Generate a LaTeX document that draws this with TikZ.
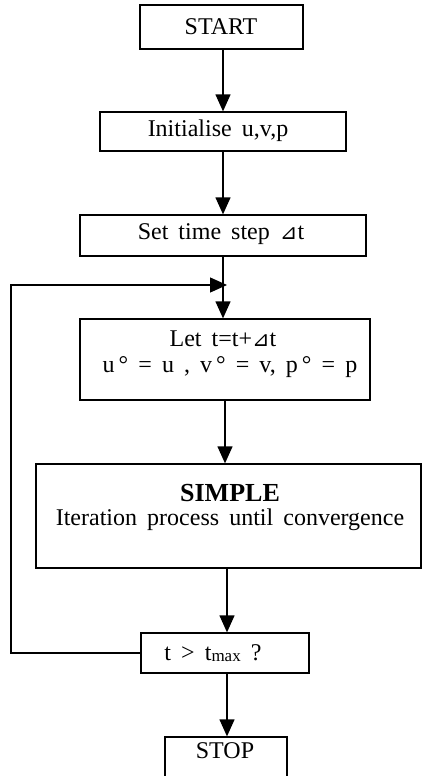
\documentclass[tikz,border=0pt]{standalone}
\usepackage{fontspec}
\setmainfont{Liberation Serif}
\newfontfamily\symfont{DejaVu Sans}
\usetikzlibrary{arrows.meta}
\newcommand{\tri}{{\symfont\fontsize{21}{24}\selectfont ⊿}}
\newcommand{\bigtext}{\fontsize{24}{28}\selectfont\spaceskip=0.42em plus 0.1em\relax}
\begin{document}
\begin{tikzpicture}[x=1pt,y=-1pt,
  box/.style={draw, line width=1.3pt, rectangle, inner sep=0pt},
  txt/.style={font=\bigtext, inner sep=0pt},
  flow/.style={line width=1.3pt, -{Triangle[length=17pt,width=15pt]}}]
\useasboundingbox (0,0) rectangle (422,776);
\coordinate (axis) at (223,0);
\coordinate (axism) at (225,0);
\coordinate (axisb) at (227,0);
% boxes
\node[box, minimum width=163pt, minimum height=44pt] (start) at (221.5,27) {};
\node[txt] (startT) at (221,27) {START};
\node[box, minimum width=246pt, minimum height=39pt] (init) at (223,131.5) {};
\node[txt] (initT) at (218,131) {Initialise u,v,p};
\node[box, minimum width=286pt, minimum height=41pt] (settime) at (223,235.5) {};
\node[txt] (setT) at (221,234) {Set time step \tri t};
\node[box, minimum width=290pt, minimum height=81pt] (let) at (225,359.5) {};
\node[txt] (letA) at (223,339) {Let t=t+\tri t};
\node[txt] (letB) at (230,367) {u\,° = u , v\,° = v, p\,° = p};
\node[box, minimum width=385pt, minimum height=104pt] (simple) at (228.5,516) {};
\node[txt, font=\fontsize{26}{30}\selectfont\bfseries] (simpleA) at (230,493) {SIMPLE};
\node[txt] (simpleB) at (230,520) {Iteration process until convergence};
\node[box, minimum width=168pt, minimum height=40pt] (cond) at (225,653) {};
\node[txt] (condT) at (213,653) {t > t\raisebox{-1pt}{\fontsize{17}{20}\selectfont max} ?};
\node[box, minimum width=122pt, minimum height=48pt] (stop) at (226,761) {};
\node[txt] (stopT) at (225,751) {STOP};
% connectors
\draw[flow] (start.south -| axis) -- (init.north -| axis);
\draw[flow] (init.south -| axis) -- (settime.north -| axis);
\draw[flow] (settime.south -| axis) -- (let.north -| axis);
\draw[flow] (let.south -| axism) -- (simple.north -| axism);
\draw[flow] (simple.south -| axisb) -- (cond.north -| axisb);
\draw[flow] (cond.south -| axisb) -- (stop.north -| axisb);
\coordinate (fbcorner) at (11,285);
\coordinate (join) at (227,285);
\draw[flow] (cond.west) -| (fbcorner) -- (join);
\end{tikzpicture}
\end{document}
